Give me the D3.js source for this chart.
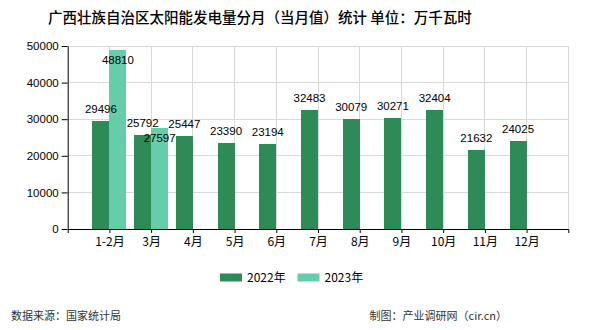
<!DOCTYPE html>
<html><head><meta charset="utf-8">
<script src="https://cdn.jsdelivr.net/npm/d3@7"></script>
<style>body{margin:0;background:#fff}svg{display:block}</style>
</head><body>
<svg id="c" width="590" height="330"></svg>
<script>
const categories = ["1-2月","3月","4月","5月","6月","7月","8月","9月","10月","11月","12月"];
const series2022 = [29496,25792,25447,23390,23194,32483,30079,30271,32404,21632,24025];
const series2023 = [48810,27597,null,null,null,null,null,null,null,null,null];
const seriesNames = ["2022年","2023年"];
const yTicks = [0,10000,20000,30000,40000,50000];
const colors = ["#2e8b57","#66cdaa"];

const svg = d3.select("#c");
const L = 67.7, R = 568.3, T = 46, B = 229;
const numFont = "'Liberation Sans', Arial, sans-serif";
const cjkFont = "'Noto Sans CJK SC', sans-serif";

const x = d3.scalePoint().domain(categories).range([L, R]).padding(1);
const y = d3.scaleLinear().domain([0, 50000]).range([B, T]);
const sub = d3.scaleBand().domain([0,1]).range([-17, 17]).padding(0);

// gridlines
const g = svg.append("g");
g.selectAll(".hg").data(yTicks.filter(d=>d>0)).join("line")
  .attr("x1", L).attr("x2", R).attr("y1", d=>y(d)).attr("y2", d=>y(d))
  .attr("stroke", "#d9d9d9").attr("stroke-width", 1).attr("shape-rendering","crispEdges");
g.selectAll(".vg").data(categories).join("line")
  .attr("x1", d=>x(d)).attr("x2", d=>x(d)).attr("y1", T).attr("y2", B)
  .attr("stroke", "#d9d9d9").attr("stroke-width", 1).attr("shape-rendering","crispEdges");
g.append("line").attr("x1", R).attr("x2", R).attr("y1", T).attr("y2", B)
  .attr("stroke", "#d9d9d9").attr("shape-rendering","crispEdges");

// bars
const data = [series2022, series2023];
data.forEach((vals, si) => {
  const pts = categories.map((c,i)=>({c, v: vals[i]})).filter(d=>d.v!=null);
  svg.append("g").selectAll("rect").data(pts).join("rect")
    .attr("x", d=>x(d.c)+sub(si)).attr("width", sub.bandwidth())
    .attr("y", d=>y(d.v)).attr("height", d=>B - y(d.v))
    .attr("fill", colors[si]).attr("shape-rendering","crispEdges");
});

// axes
const ya = d3.axisLeft(y).tickValues(yTicks).tickFormat(d3.format("d")).tickSize(6).tickSizeOuter(0).tickPadding(3);
const yg = svg.append("g").attr("transform", `translate(${L},0)`).call(ya);
yg.selectAll("text").attr("font-family", numFont).attr("font-size", "11.5px").attr("fill","#000");
yg.selectAll("line,path").attr("stroke","#000");

const xa = d3.axisBottom(x).tickSize(4).tickSizeOuter(4).tickPadding(4);
const xg = svg.append("g").attr("transform", `translate(0,${B})`).call(xa);
xg.selectAll("text").attr("font-family", cjkFont).attr("font-size", "12px").attr("fill","#000");
xg.selectAll("line,path").attr("stroke","#000");

// value labels
data.forEach((vals, si) => {
  const pts = categories.map((c,i)=>({c, v: vals[i]})).filter(d=>d.v!=null);
  svg.append("g").selectAll("text").data(pts).join("text")
    .attr("x", d=>x(d.c)+sub(si)+sub.bandwidth()/2)
    .attr("y", d=> si===0 ? y(d.v)-8 : y(d.v)+14)
    .attr("text-anchor","middle")
    .attr("font-family", numFont).attr("font-size","11.5px").attr("fill","#000")
    .text(d=>d.v);
});

// title
svg.append("text").attr("x", 260).attr("y", 23).attr("text-anchor","middle")
  .attr("font-family", cjkFont).attr("font-size","14.5px").attr("font-weight","500").attr("fill","#000")
  .text("广西壮族自治区太阳能发电量分月（当月值）统计 单位：万千瓦时");

// legend
const lg = svg.append("g");
const lx = [220, 297.5];
seriesNames.forEach((n,i)=>{
  lg.append("rect").attr("x", lx[i]).attr("y", 273.5).attr("width", 22).attr("height", 8).attr("fill", colors[i]);
  lg.append("text").attr("x", lx[i]+27).attr("y", 282).attr("font-family", cjkFont)
    .attr("font-size","12px").attr("fill","#000").text(n);
});

// footer
svg.append("text").attr("x", 11).attr("y", 320).attr("font-family", cjkFont)
  .attr("font-size","11px").attr("fill","#333").text("数据来源：国家统计局");
svg.append("text").attr("x", 507).attr("y", 320).attr("text-anchor","end").attr("font-family", cjkFont)
  .attr("font-size","11px").attr("fill","#333").text("制图：产业调研网（cir.cn）");
</script>
</body></html>
